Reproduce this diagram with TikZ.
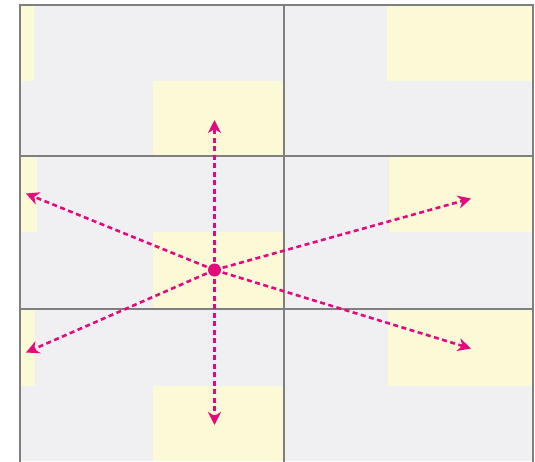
\documentclass[tikz,border=0pt]{standalone}
\usetikzlibrary{arrows.meta}
\definecolor{cellgrey}{HTML}{F0F0F2}
\definecolor{boxyellow}{HTML}{FCF9D7}
\definecolor{gridline}{HTML}{7F7F7F}
\definecolor{magentapink}{HTML}{E4097D}
\tikzset{
  cell/.style={fill=cellgrey, draw=none},
  ybox/.style={fill=boxyellow, draw=none},
  gridl/.style={draw=gridline, line width=2pt},
  dir/.style={draw=magentapink, line width=2.6pt, dash pattern=on 5pt off 3.5pt,
    -{Stealth[length=13pt,width=13pt,inset=4pt]}},
  dot/.style={circle, fill=magentapink, minimum size=13pt, inner sep=0pt}
}
\begin{document}
\begin{tikzpicture}[x=1pt,y=-1pt]
\useasboundingbox (0,0) rectangle (535,461);
% grey background
\fill[cell] (20,5) rectangle (533,461);
% yellow boxes row 1
\fill[ybox] (20,5) rectangle (34,81);
\fill[ybox] (153,81) rectangle (284,156);
\fill[ybox] (387,5) rectangle (533,81);
% row 2
\fill[ybox] (20,156) rectangle (37,232);
\fill[ybox] (153,232) rectangle (284,309);
\fill[ybox] (389,156) rectangle (533,232);
% row 3
\fill[ybox] (20,309) rectangle (35,386);
\fill[ybox] (153,386) rectangle (284,461);
\fill[ybox] (388,309) rectangle (533,386);
% grid lines
\draw[gridl] (20,465) -- (20,5) -- (533,5) -- (533,465);
\draw[gridl] (284,5) -- (284,465);
\draw[gridl] (20,156) -- (533,156);
\draw[gridl] (20,309) -- (533,309);
% direction arrows
\node[dot] (c) at (214.5,270) {};
\coordinate (up) at (214.5,120);
\coordinate (down) at (214.5,425);
\coordinate (ul) at (26,193.5);
\coordinate (ur) at (471,198.5);
\coordinate (ll) at (26,352.5);
\coordinate (lr) at (471,348.5);
\foreach \t in {up,down,ul,ur,ll,lr}
  \draw[dir] (c.center) -- (\t);
\end{tikzpicture}
\end{document}
